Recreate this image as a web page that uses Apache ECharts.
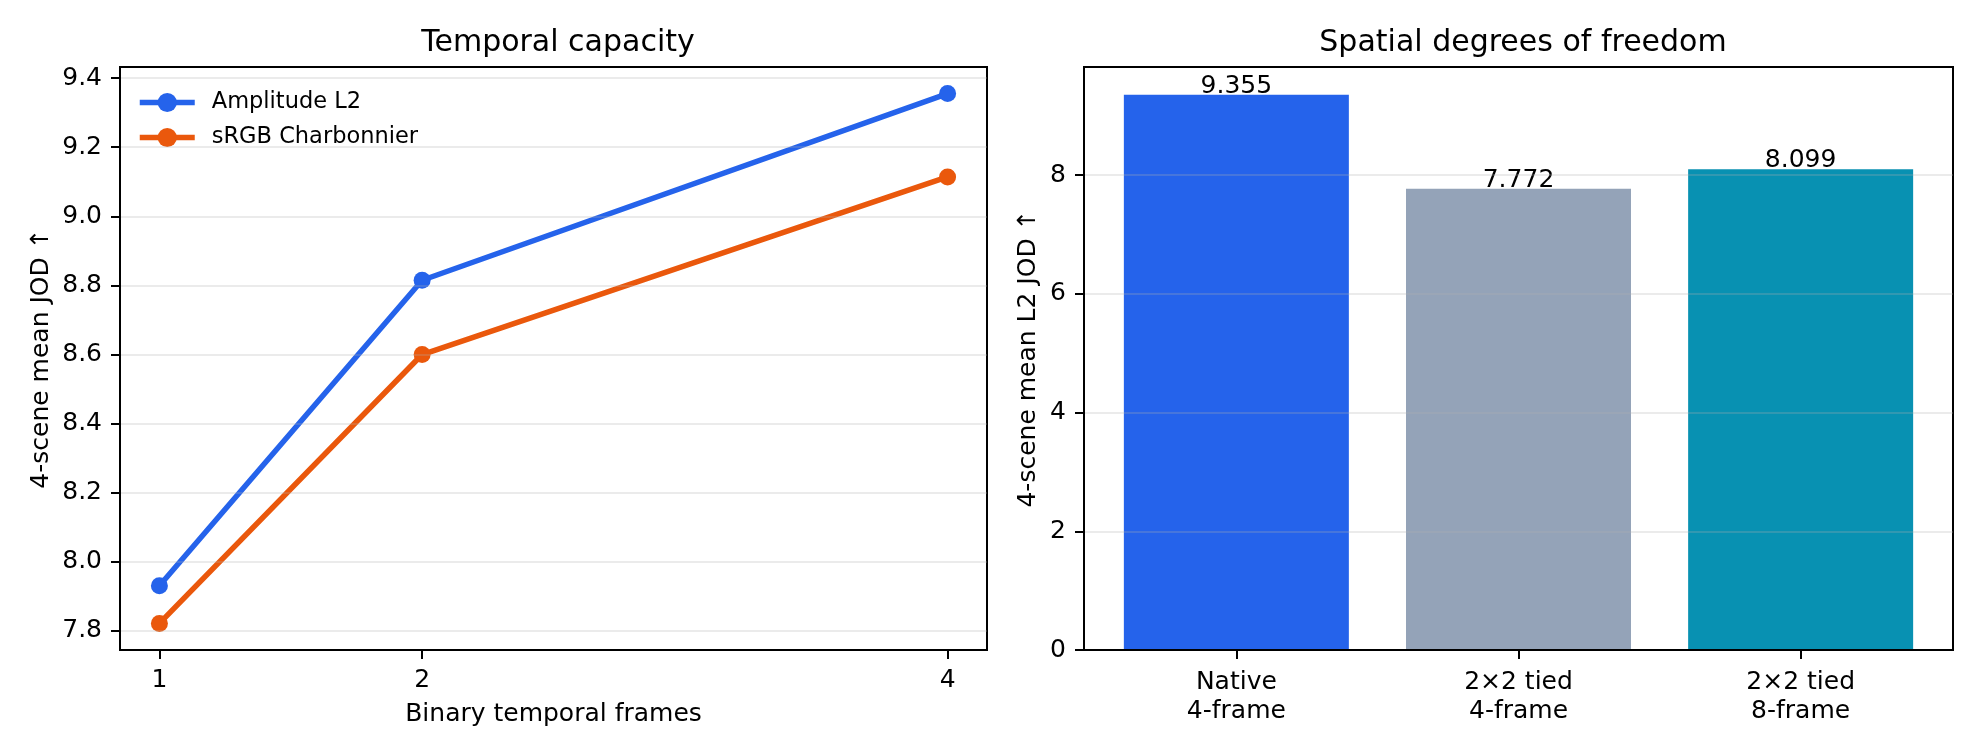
<!DOCTYPE html>
<html>
<head>
<meta charset="utf-8">
<script src="https://cdn.jsdelivr.net/npm/echarts@6/dist/echarts.min.js"></script>
<style>
  html, body { margin: 0; padding: 0; background: #fff; }
  #main { width: 1980px; height: 756px; }
</style>
</head>
<body>
<div id="main"></div>
<script>
var dom = document.getElementById("main");
var myChart = echarts.init(dom);

// left panel: temporal capacity
var frames = [1, 2, 4];
var amplitudeL2 = [7.931, 8.815, 9.355];
var srgbCharbonnier = [7.822, 8.600, 9.114];
var temporalTicks = [7.8, 8.0, 8.2, 8.4, 8.6, 8.8, 9.0, 9.2, 9.4];

// right panel: spatial degrees of freedom
var spatialCategories = ['Native\n4-frame', '2\u00d72 tied\n4-frame', '2\u00d72 tied\n8-frame'];
var spatialValues = [9.355, 7.772, 8.099];
var spatialTicks = [0, 2, 4, 6, 8];
var spatialColors = ['#2563eb', '#94a3b8', '#0891b2'];

var font = 'DejaVu Sans';
var gridColor = 'rgba(176,176,176,0.25)';

function pairs(xs, ys) {
    return xs.map(function (x, i) { return [x, ys[i]]; });
}

var axisCommon = {
    axisLine: { show: true, onZero: false, lineStyle: { color: '#000', width: 2 } },
    axisTick: { show: true, length: 9, lineStyle: { color: '#000', width: 2 } },
    splitLine: { show: false },
    z: 6
};

option = {
    animation: false,
    textStyle: { fontFamily: font, color: '#000' },
    title: [
        { text: 'Temporal capacity', left: 553, top: 23, textAlign: 'center',
          textStyle: { fontFamily: font, fontSize: 30, fontWeight: 'normal', color: '#000' } },
        { text: 'Spatial degrees of freedom', left: 1518, top: 23, textAlign: 'center',
          textStyle: { fontFamily: font, fontSize: 30, fontWeight: 'normal', color: '#000' } }
    ],
    legend: {
        data: ['Amplitude L2', 'sRGB Charbonnier'],
        orient: 'vertical',
        left: 137,
        top: 91,
        padding: 0,
        itemWidth: 55,
        itemHeight: 24,
        itemGap: 12,
        lineStyle: { width: 5.5 },
        textStyle: { fontFamily: font, fontSize: 22.5, color: '#000', padding: [0, 0, 0, 12] }
    },
    grid: [
        { left: 120, right: 993, top: 67, bottom: 106, show: true, borderColor: '#000', borderWidth: 2 },
        { left: 1084, right: 27, top: 67, bottom: 106, show: true, borderColor: '#000', borderWidth: 2 }
    ],
    xAxis: [
        Object.assign({}, axisCommon, {
            type: 'value', gridIndex: 0, min: 0.85, max: 4.15,
            name: 'Binary temporal frames', nameLocation: 'middle', nameGap: 52,
            nameTextStyle: { fontFamily: font, fontSize: 25, color: '#000' },
            axisTick: Object.assign({}, axisCommon.axisTick, { customValues: frames }),
            axisLabel: { customValues: frames, margin: 18, fontSize: 25, color: '#000', fontFamily: font,
                         formatter: function (v) { return String(v); } }
        }),
        Object.assign({}, axisCommon, {
            type: 'value', gridIndex: 1, min: -0.54, max: 2.54,
            axisTick: Object.assign({}, axisCommon.axisTick, { customValues: [0, 1, 2] }),
            axisLabel: { customValues: [0, 1, 2], margin: 18, fontSize: 25, lineHeight: 29, color: '#000', fontFamily: font,
                         formatter: function (v) { return spatialCategories[Math.round(v)]; } }
        })
    ],
    yAxis: [
        Object.assign({}, axisCommon, {
            type: 'value', gridIndex: 0, min: 7.745, max: 9.432,
            name: '4-scene mean JOD \u2191', nameLocation: 'middle', nameGap: 66,
            nameTextStyle: { fontFamily: font, fontSize: 25, color: '#000' },
            axisTick: Object.assign({}, axisCommon.axisTick, { customValues: temporalTicks }),
            axisLabel: { customValues: temporalTicks, margin: 18, fontSize: 25, color: '#000', fontFamily: font,
                         formatter: function (v) { return v.toFixed(1); } }
        }),
        Object.assign({}, axisCommon, {
            type: 'value', gridIndex: 1, min: 0, max: 9.823,
            name: '4-scene mean L2 JOD \u2191', nameLocation: 'middle', nameGap: 43,
            nameTextStyle: { fontFamily: font, fontSize: 25, color: '#000' },
            axisTick: Object.assign({}, axisCommon.axisTick, { customValues: spatialTicks }),
            axisLabel: { customValues: spatialTicks, margin: 18, fontSize: 25, color: '#000', fontFamily: font,
                         formatter: function (v) { return String(v); } }
        })
    ],
    series: [
        {
            name: 'grid-left', type: 'line', xAxisIndex: 0, yAxisIndex: 0, data: [], z: 1, silent: true,
            markLine: {
                silent: true, symbol: 'none', label: { show: false },
                lineStyle: { color: gridColor, width: 2, type: 'solid' },
                data: temporalTicks.map(function (v) { return { yAxis: v }; })
            }
        },
        {
            name: 'Amplitude L2', type: 'line', xAxisIndex: 0, yAxisIndex: 0, z: 3,
            data: pairs(frames, amplitudeL2),
            symbol: 'circle', symbolSize: 17, showAllSymbol: true,
            lineStyle: { color: '#2563eb', width: 5.5 },
            itemStyle: { color: '#2563eb' }
        },
        {
            name: 'sRGB Charbonnier', type: 'line', xAxisIndex: 0, yAxisIndex: 0, z: 3,
            data: pairs(frames, srgbCharbonnier),
            symbol: 'circle', symbolSize: 17, showAllSymbol: true,
            lineStyle: { color: '#ea580c', width: 5.5 },
            itemStyle: { color: '#ea580c' }
        },
        {
            name: 'Spatial', type: 'bar', xAxisIndex: 1, yAxisIndex: 1, z: 2,
            barWidth: 225,
            data: spatialValues.map(function (v, i) {
                return { value: [i, v], itemStyle: { color: spatialColors[i] } };
            }),
            label: {
                show: true, position: 'top', distance: -4,
                fontFamily: font, fontSize: 25, color: '#000',
                formatter: function (p) { return p.value[1].toFixed(3); }
            }
        },
        {
            name: 'grid-right', type: 'line', xAxisIndex: 1, yAxisIndex: 1, data: [], z: 4, silent: true,
            markLine: {
                silent: true, symbol: 'none', label: { show: false },
                lineStyle: { color: gridColor, width: 2, type: 'solid' },
                data: spatialTicks.map(function (v) { return { yAxis: v }; })
            }
        }
    ]
};

if (option && typeof option === "object") {
    myChart.setOption(option, true);
}
</script>
</body>
</html>
